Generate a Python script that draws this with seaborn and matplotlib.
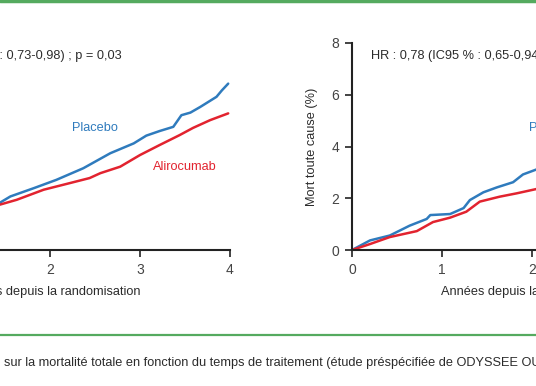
import numpy as np
import pandas as pd
import matplotlib
matplotlib.use('Agg')
import matplotlib.pyplot as plt
import matplotlib.font_manager as fm
from matplotlib.lines import Line2D
import seaborn as sns

# data (years, % deaths)
groups = ['Placebo', 'Alirocumab']

left_x_placebo = [1.40, 1.44, 1.56, 1.82, 2.07, 2.37, 2.67, 2.93, 3.07, 3.22, 3.37, 3.46, 3.56, 3.67, 3.85, 3.91, 3.98]
left_y_placebo = [1.78, 1.82, 2.07, 2.39, 2.71, 3.16, 3.74, 4.12, 4.42, 4.60, 4.76, 5.21, 5.31, 5.53, 5.92, 6.17, 6.43]
left_x_aliro = [1.40, 1.44, 1.63, 1.93, 2.18, 2.44, 2.56, 2.78, 3.00, 3.22, 3.44, 3.59, 3.78, 3.98]
left_y_aliro = [1.72, 1.75, 1.94, 2.33, 2.55, 2.78, 2.97, 3.22, 3.67, 4.06, 4.44, 4.72, 5.02, 5.28]

right_x_placebo = [0, 0.20, 0.42, 0.64, 0.83, 0.87, 1.09, 1.24, 1.31, 1.46, 1.61, 1.79, 1.90, 2.04, 2.10]
right_y_placebo = [0, 0.37, 0.56, 0.94, 1.20, 1.35, 1.39, 1.62, 1.93, 2.23, 2.42, 2.62, 2.92, 3.10, 3.18]
right_x_aliro = [0, 0.20, 0.42, 0.72, 0.90, 1.09, 1.27, 1.42, 1.64, 1.83, 2.04, 2.10]
right_y_aliro = [0, 0.23, 0.50, 0.73, 1.08, 1.25, 1.48, 1.87, 2.06, 2.19, 2.35, 2.40]

x_ticks = [0, 1, 2, 3, 4]
y_ticks = [0, 2, 4, 6, 8]

left_title = 'HR : 0,85 (IC95 % : 0,73-0,98) ; p = 0,03'
right_title = 'HR : 0,78 (IC95 % : 0,65-0,94)'
x_label = 'Années depuis la randomisation'
y_label = 'Mort toute cause (%)'
caption = ('sur la mortalité totale en fonction du temps de traitement '
           '(étude préspécifiée de ODYSSEE OUTCOMES)')

blue = '#2f7bbd'
red = '#e2232f'
text_col = '#2b2b2b'
green = '#55aa5f'


def make_df(xp, yp, xa, ya):
    return pd.concat([
        pd.DataFrame({'annees': xp, 'mort': yp, 'groupe': groups[0]}),
        pd.DataFrame({'annees': xa, 'mort': ya, 'groupe': groups[1]}),
    ], ignore_index=True)


sns.set_style('ticks')
names = {f.name for f in fm.fontManager.ttflist}
if 'Liberation Sans Narrow' in names:
    family = 'Liberation Sans Narrow'
    fsize, tsize = 11, 11.5
else:
    family = 'Liberation Sans'
    fsize, tsize = 9.2, 10
plt.rcParams['font.family'] = [family, 'DejaVu Sans']
plt.rcParams['text.color'] = text_col
plt.rcParams['axes.labelcolor'] = text_col

W, H = 536, 386
fig = plt.figure(figsize=(W / 100, H / 100), dpi=100)

# axes placed in pixel units, the figure is a crop of a wider original
y0_px, y8_px = 250.0, 43.0
ax_h = (y0_px - y8_px) / H
ax_b = (H - y0_px) / H
ax_left = fig.add_axes([-130 / W, ax_b, 360 / W, ax_h])
ax_right = fig.add_axes([352 / W, ax_b, 360 / W, ax_h])

panels = [
    (ax_left, make_df(left_x_placebo, left_y_placebo, left_x_aliro, left_y_aliro)),
    (ax_right, make_df(right_x_placebo, right_y_placebo, right_x_aliro, right_y_aliro)),
]

for ax, df in panels:
    sns.lineplot(data=df, x='annees', y='mort', hue='groupe', hue_order=groups,
                 palette=[blue, red], linewidth=1.8, legend=False, ax=ax,
                 estimator=None, sort=False)
    ax.set_xlim(0, 4)
    ax.set_ylim(0, 8)
    ax.set_xticks(x_ticks)
    ax.set_yticks(y_ticks)
    sns.despine(ax=ax)
    for s in ['left', 'bottom']:
        ax.spines[s].set_linewidth(1.5)
        ax.spines[s].set_color('#222222')
    ax.tick_params(length=5, width=1.2, color='#222222', labelsize=tsize,
                   labelcolor='#444444', pad=4)
    ax.set_xlabel(x_label, fontsize=fsize, labelpad=7)
    ax.set_ylabel(y_label, fontsize=fsize, labelpad=10)

ax_left.text(2.8, 7.5, left_title, ha='right', va='center', fontsize=fsize)
ax_right.text(0.21, 7.5, right_title, ha='left', va='center', fontsize=fsize)

ax_left.text(2.5, 4.71, 'Placebo', color=blue, ha='center', va='center', fontsize=fsize)
ax_left.text(3.5, 3.21, 'Alirocumab', color=red, ha='center', va='center', fontsize=fsize)
ax_right.text(1.97, 4.71, 'Placebo', color=blue, ha='left', va='center', fontsize=fsize)

# green rules and caption
fig.add_artist(Line2D([0, 1], [1 - 1 / H, 1 - 1 / H], color=green, linewidth=2.5))
fig.add_artist(Line2D([0, 1], [(H - 335) / H, (H - 335) / H], color=green, linewidth=1.6))
fig.text(4 / W, (H - 363) / H, caption, ha='left', va='center', fontsize=fsize)

fig.savefig('out.png', dpi=100)
